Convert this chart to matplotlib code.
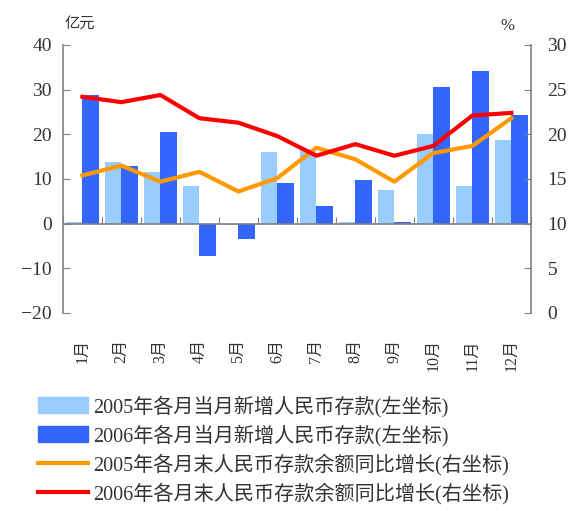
import matplotlib
matplotlib.use("Agg")
import matplotlib.pyplot as plt
import numpy as np
from matplotlib.patches import Patch
from matplotlib.lines import Line2D

plt.rcParams["font.family"] = ["Liberation Serif", "Noto Sans CJK SC"]

months = ["1月", "2月", "3月", "4月", "5月", "6月", "7月", "8月", "9月", "10月", "11月", "12月"]
new_2005 = [0.4, 13.9, 11.6, 8.5, -0.4, 16.1, 16.8, 0.3, 7.6, 20.1, 8.5, 18.8]
new_2006 = [28.8, 13.0, 20.6, -7.2, -3.5, 9.0, 4.0, 9.8, 0.3, 30.6, 34.2, 24.4]
growth_2005 = [15.4, 16.5, 14.7, 15.8, 13.6, 15.1, 18.5, 17.2, 14.7, 17.9, 18.7, 21.8]
growth_2006 = [24.2, 23.6, 24.4, 21.8, 21.3, 19.8, 17.6, 18.9, 17.6, 18.7, 22.1, 22.4]

legend_labels = [
    "2005年各月当月新增人民币存款(左坐标)",
    "2006年各月当月新增人民币存款(左坐标)",
    "2005年各月末人民币存款余额同比增长(右坐标)",
    "2006年各月末人民币存款余额同比增长(右坐标)",
]

c_light = "#99CCFF"
c_dark = "#3366FF"
c_orange = "#FF9900"
c_red = "#FF0000"
spine_c = "#808080"
text_c = "#333333"

fig = plt.figure(figsize=(5.72, 5.11), dpi=100)
ax = fig.add_axes([0.110, 0.3875, 0.818, 0.5245])
x = np.arange(len(months))
w = 0.43

ax.bar(x - w / 2, new_2005, width=w, color=c_light, zorder=2)
ax.bar(x + w / 2, new_2006, width=w, color=c_dark, zorder=2)
ax.set_xlim(-0.5, len(months) - 0.5)
ax.set_ylim(-20, 40)
ax.set_yticks(range(-20, 41, 10))
ax.set_yticklabels(["\u221220", "\u221210", "0", "10", "20", "30", "40"])
ax.axhline(0, color=spine_c, lw=1.2, zorder=3)

for s in ["top", "right", "bottom"]:
    ax.spines[s].set_visible(False)
ax.spines["left"].set_color(spine_c)
ax.spines["left"].set_linewidth(1.2)
ax.tick_params(axis="y", direction="in", length=5, color=spine_c, labelsize=14,
               labelcolor=text_c, pad=8)
ax.set_xticks(x)
ax.set_xticklabels(months, rotation=90, va="top", ha="center")
ax.tick_params(axis="x", length=0, labelsize=11.5, labelcolor=text_c, pad=19)

# boundary ticks on the zero line
zero_frac = (0 - ax.get_ylim()[0]) / (ax.get_ylim()[1] - ax.get_ylim()[0])
sec = ax.secondary_xaxis(zero_frac)
sec.set_xticks(np.arange(len(months) + 1) - 0.5)
sec.tick_params(axis="x", direction="in", length=5, color=spine_c, labelbottom=False)
sec.spines["bottom"].set_visible(False)

ax2 = ax.twinx()
ax2.plot(x, growth_2005, color=c_orange, lw=3, zorder=4)
ax2.plot(x, growth_2006, color=c_red, lw=3, zorder=4)
ax2.set_ylim(0, 30)
ax2.set_yticks(range(0, 31, 5))
for s in ["top", "left", "bottom"]:
    ax2.spines[s].set_visible(False)
ax2.spines["right"].set_color(spine_c)
ax2.spines["right"].set_linewidth(1.2)
ax2.tick_params(axis="y", direction="in", length=5, color=spine_c, labelsize=14,
                labelcolor=text_c, pad=12)

fig.text(0.112, 0.955, "亿元", fontsize=11, color=text_c, ha="left", va="center",
         family=["Noto Sans CJK SC"])
fig.text(0.887, 0.950, "%", fontsize=12, color=text_c, ha="center", va="center")

handles = [
    Patch(color=c_light),
    Patch(color=c_dark),
    Line2D([], [], color=c_orange, lw=3),
    Line2D([], [], color=c_red, lw=3),
]
fig.legend(handles, legend_labels, loc="upper left", bbox_to_anchor=(0.035, 0.262),
           frameon=False, handlelength=2.5, handleheight=0.85,
           handletextpad=0.25, labelspacing=0.36, labelcolor=text_c,
           prop={"family": ["Liberation Serif", "Noto Sans CJK SC"], "size": 14.5})

fig.savefig("out.png", dpi=100)
